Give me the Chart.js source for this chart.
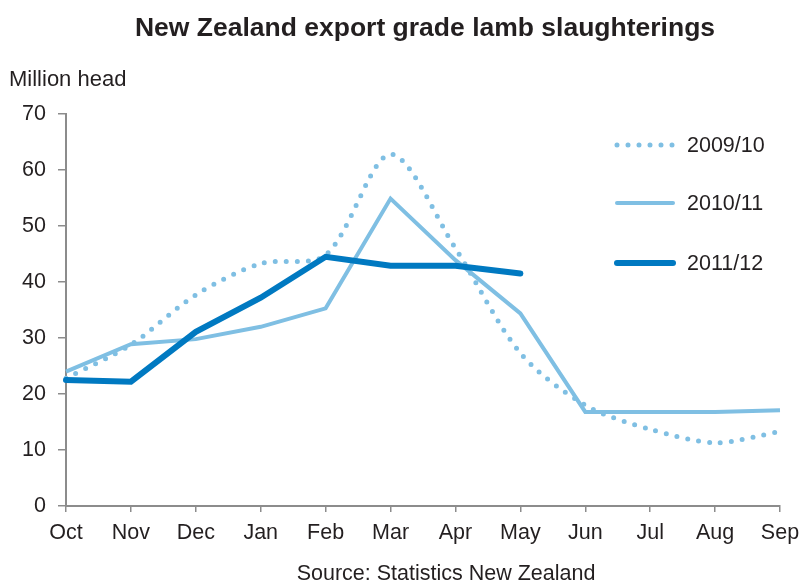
<!DOCTYPE html>
<html>
<head>
<meta charset="utf-8">
<script src="https://cdn.jsdelivr.net/npm/chart.js@4/dist/chart.umd.min.js"></script>
<style>
  html, body { margin: 0; padding: 0; background: #fff; }
  #wrap { width: 799px; height: 585px; position: relative; }
</style>
</head>
<body>
<div id="wrap"><canvas id="myChart" width="799" height="585"></canvas></div>
<script>
// Données
const months = ['Oct', 'Nov', 'Dec', 'Jan', 'Feb', 'Mar', 'Apr', 'May', 'Jun', 'Jul', 'Aug', 'Sep'];
const season0910 = [22.8, 28.8, 37.7, 43.3, 44.8, 62.8, 46, 27.3, 18, 13.7, 11.3, 13.3];
const season1011 = [24, 28.9, 29.8, 32, 35.3, 54.9, 43.9, 34.4, 16.8, 16.8, 16.8, 17.1];
const season1112 = [22.5, 22.2, 31.1, 37.2, 44.5, 42.9, 42.9, 41.5, null, null, null, null];
const seriesNames = ['2009/10', '2010/11', '2011/12'];

const lightBlue = '#7fbfe3';
const darkBlue = '#0079c1';
const textColor = '#231f20';
const axisColor = '#8c8c8c';
const font = 'Arial, "Liberation Sans", sans-serif';

// Titre, unité, source et légende dessinés à la main
const textPlugin = {
    id: 'textPlugin',
    afterDraw(chart) {
        const ctx = chart.ctx;
        ctx.save();
        ctx.fillStyle = textColor;
        ctx.textBaseline = 'middle';

        ctx.font = 'bold 26.5px ' + font;
        ctx.textAlign = 'center';
        ctx.fillText('New Zealand export grade lamb slaughterings', 425, 29);

        ctx.font = '22px ' + font;
        ctx.textAlign = 'left';
        ctx.fillText('Million head', 9, 80);

        ctx.font = '21.5px ' + font;
        ctx.textAlign = 'center';
        ctx.fillText('Source: Statistics New Zealand', 446, 574);

        // légende
        const rows = [145, 203, 263];
        chart.data.datasets.forEach((ds, i) => {
            const y = rows[i];
            ctx.beginPath();
            ctx.strokeStyle = ds.borderColor;
            ctx.lineWidth = ds.borderWidth;
            ctx.lineCap = 'round';
            ctx.setLineDash(ds.borderDash || []);
            ctx.moveTo(617, y);
            ctx.lineTo(673, y);
            ctx.stroke();
            ctx.setLineDash([]);
            ctx.fillStyle = textColor;
            ctx.textAlign = 'left';
            ctx.fillText(ds.label, 687, y + 1);
        });
        ctx.restore();
    }
};

const ctx = document.getElementById('myChart').getContext('2d');
new Chart(ctx, {
    type: 'line',
    data: {
        labels: months,
        datasets: [
            {
                label: seriesNames[0],
                data: season0910,
                borderColor: lightBlue,
                borderWidth: 5,
                borderDash: [0, 11],
                borderCapStyle: 'round',
                tension: 0.3,
                order: 3
            },
            {
                label: seriesNames[1],
                data: season1011,
                borderColor: lightBlue,
                borderWidth: 4,
                borderJoinStyle: 'miter',
                tension: 0,
                order: 2
            },
            {
                label: seriesNames[2],
                data: season1112,
                borderColor: darkBlue,
                borderWidth: 6,
                borderCapStyle: 'round',
                tension: 0,
                order: 1
            }
        ]
    },
    options: {
        responsive: false,
        animation: false,
        spanGaps: false,
        elements: { point: { radius: 0, hoverRadius: 0 } },
        layout: { padding: { top: 114, right: 19, left: 0, bottom: 0 } },
        plugins: {
            legend: { display: false },
            title: { display: false },
            tooltip: { enabled: false }
        },
        scales: {
            x: {
                offset: false,
                grid: {
                    drawOnChartArea: false,
                    drawTicks: true,
                    tickLength: 6,
                    color: axisColor,
                    lineWidth: 1.5
                },
                border: { color: axisColor, width: 2 },
                ticks: {
                    color: textColor,
                    font: { family: font, size: 21.5 },
                    padding: 8,
                    maxRotation: 0,
                    autoSkip: false
                },
                afterFit(scale) {
                    scale.height = 79;
                    scale.paddingLeft = 0;
                    scale.paddingRight = 0;
                }
            },
            y: {
                min: 0,
                max: 70,
                grid: {
                    drawOnChartArea: false,
                    drawTicks: true,
                    tickLength: 8,
                    color: axisColor,
                    lineWidth: 1.5
                },
                border: { color: axisColor, width: 2 },
                ticks: {
                    stepSize: 10,
                    color: textColor,
                    font: { family: font, size: 21.5 },
                    padding: 12
                },
                afterFit(scale) { scale.width = 66; }
            }
        }
    },
    plugins: [textPlugin]
});
</script>
</body>
</html>
